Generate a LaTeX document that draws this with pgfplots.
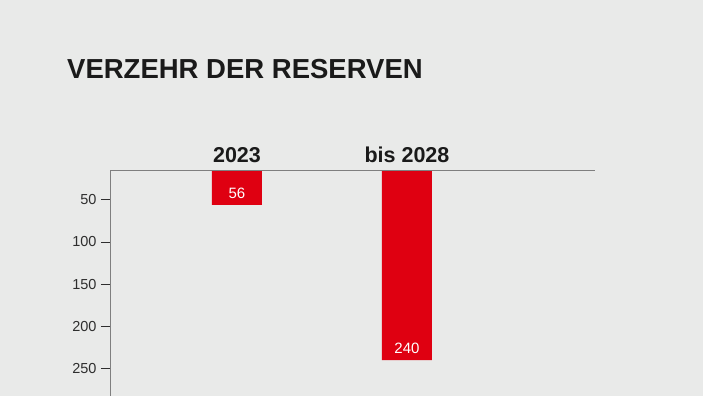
\documentclass[border=0pt]{standalone}
\usepackage{pgfplots}
\pgfplotsset{compat=1.18}
\usepackage{fontspec}
\setmainfont{Liberation Sans}
\definecolor{bg}{HTML}{E9EAE9}
\definecolor{barred}{HTML}{DF0011}
\definecolor{axisgray}{HTML}{7F7F7F}
\definecolor{txt}{HTML}{1A1A1A}
\definecolor{ticktxt}{HTML}{2E2E2E}
\begin{document}
\begin{tikzpicture}[x=1pt,y=1pt]
\fill[bg] (0,0) rectangle (703,396);
\node[anchor=base west, font=\bfseries\fontsize{27.5}{27.5}\selectfont, text=txt, inner sep=0] at (67,317) {VERZEHR DER RESERVEN};
\begin{axis}[
  at={(110pt,0pt)}, anchor=south west,
  scale only axis, width=485pt, height=225.5pt,
  xmin=-0.747, xmax=2.106, ymin=15.4, ymax=282.6,
  y dir=reverse,
  clip mode=individual,
  axis x line=none, axis y line*=left,
  axis line style={axisgray, line width=1pt},
  ytick={50,100,150,200,250},
  tick align=outside, major tick length=9pt,
  ytick style={ticktxt, line width=0.8pt},
  yticklabel style={font=\fontsize{14.5}{14.5}\selectfont, text=ticktxt, xshift=-1pt},
  /pgf/number format/assume math mode=true,
  ybar, bar width=50pt,
  nodes near coords,
  nodes near coords align={vertical},
  every node near coord/.append style={font=\fontsize{15}{15}\selectfont, text=white, anchor=south, yshift=3pt},
]
\addplot[fill=barred, draw=none] coordinates {(0,56) (1,240)};
\draw[axisgray, line width=1pt] (axis cs:-0.747,15.4) -- (axis cs:2.106,15.4);
\node[anchor=base, font=\bfseries\fontsize{21.5}{21.5}\selectfont, text=txt] at (axis cs:0,15.4) [yshift=8pt] {2023};
\node[anchor=base, font=\bfseries\fontsize{21.5}{21.5}\selectfont, text=txt] at (axis cs:1,15.4) [yshift=8pt] {bis 2028};
\end{axis}
\end{tikzpicture}
\end{document}
